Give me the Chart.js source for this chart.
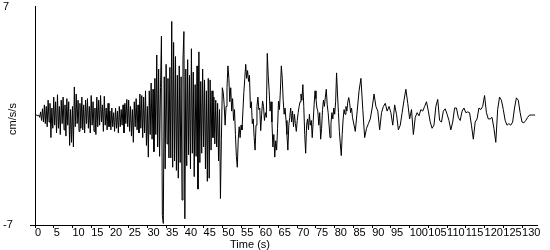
<!DOCTYPE html>
<html>
<head>
<meta charset="utf-8">
<script src="https://cdn.jsdelivr.net/npm/chart.js@4"></script>
<style>
  html, body { margin: 0; padding: 0; background: #fff; }
  #wrap { width: 550px; height: 250px; position: relative; }
</style>
</head>
<body>
<div id="wrap"><canvas id="seismoChart"></canvas></div>
<script>
// time axis ticks (s) and y axis ticks (cm/s/s)
const timeTicks = [0, 5, 10, 15, 20, 25, 30, 35, 40, 45, 50, 55, 60, 65, 70, 75, 80, 85, 90, 95, 100, 105, 110, 115, 120, 125, 130];
const accelTicks = [-7, 7];

// 0 - 29.75 s, every 0.25 s
const preEventStart = 0;
const preEventStep = 0.25;
const preEvent = [
  0, 0, 0.05, 0,
  0.05, -0.1, 0.25, -0.3,
  0.45, -0.4, 0.7, -0.5,
  0.6, -0.7, 1.0, -0.4,
  0.8, -1.4, 0.5, -0.8,
  1.2, -0.6, 0.9, -1.1,
  1.35, -0.8, 0.6, -1.2,
  1.0, -0.5, 1.2, -0.9,
  0.7, -1.3, 1.1, -0.6,
  0.9, -1.9, 0.4, -1.7,
  0.6, -2.0, 1.85, -0.7,
  1.4, -0.5, 1.0, -1.0,
  0.8, -0.8, 1.2, -0.9,
  0.7, -1.1, 1.0, -0.5,
  1.1, -0.8, 0.6, -1.1,
  1.3, -0.6, 0.9, -1.0,
  0.5, -1.2, 1.2, -0.7,
  1.0, -0.6, 1.3, -0.4,
  0.7, -1.0, 1.25, -0.6,
  0.5, -0.9, 0.8, -0.7,
  0.3, -0.9, 0.5, -0.7,
  0.2, -1.0, 0.5, -0.8,
  0.3, -1.1, 0.6, -0.7,
  0.4, -0.6, 0.7, -1.1,
  0.8, -0.5, 1.05, -0.7,
  1.0, -1.0, 0.6, -1.3,
  0.4, -1.7, 0.9, -0.7,
  1.1, -0.9, 0.7, -1.1,
  1.4, -0.8, 1.3, -1.4,
  1.2, -1.1, 1.6, -1.9
];

// 30 - 49.75 s, every 0.25 s
const strongStart = 30;
const strongStep = 0.25;
const strongMotion = [
  0.6, -2.65, 1.6, -1.2,
  2.1, -1.5, 1.7, -2.3,
  2.4, -1.2, 3.9, -2.0,
  3.0, -2.6, 1.8, 5.1,
  -6.4, -6.9, 2.5, -3.4,
  3.3, -1.8, 2.4, -2.7,
  3.1, -2.7, 6.05, -3.3,
  4.7, -2.9, 3.8, -3.5,
  2.6, -4.0, 3.2, -3.0,
  2.5, -5.4, 3.6, 5.4,
  -6.6, 3.0, -3.2, 3.6,
  -2.5, 2.6, -3.4, 4.3,
  -2.4, 2.8, -3.9, 2.0,
  -2.6, 3.2, -4.7, 4.1,
  -3.0, 2.2, -2.4, 3.0,
  -2.0, 2.3, -3.4, 1.6,
  -4.2, 2.4, -4.0, 2.3,
  -2.2, 1.6, -1.4, 1.2,
  -1.8, 1.0, -2.0, 0.8,
  -2.9, 0.4, -5.3, -1.5
];

// 50 - 84.75 s, every 0.25 s
const earlyCodaStart = 50;
const earlyCodaStep = 0.25;
const earlyCoda = [
  1.8, 1.5, 0.7, -0.6,
  0.6, 1.8, 3.2, 2.4,
  0.9, 1.8, 0.3, 1.1,
  -0.3, 0.4, -1.2, -2.6,
  -3.3, -1.5, -0.7, -1.4,
  -0.6, -0.9, 0.3, 1.5,
  2.4, 3.3, 2.4, 2.9,
  2.2, 2.6, 0.5, 0.9,
  -0.5, -0.2, -1.4, -2.2,
  -0.6, 0.6, 1.2, 0.4,
  0.5, -0.95, 0.1, 0.95,
  0.6, -0.3, 0.2, -0.1,
  4.0, 2.6, 1.6, 0.3,
  0.9, -0.4, -2.0, -1.2,
  -2.65, -1.6, -2.2, -0.8,
  0.95, 0.4, 1.6, 3.2,
  2.4, 1.0, 0.1, 0.5,
  -0.3, -1.2, -2.2, -0.6,
  -0.1, 0.5, -0.4, 0.3,
  -0.7, 0.1, -0.5, -1.0,
  -0.3, 0.2, 0.6, 0.9,
  1.4, 1.0, 2.0, 0.6,
  -1.2, -2.4, -0.6, -0.2,
  -0.9, 0.1, -0.6, -0.3,
  -1.4, -0.4, 0.7, 1.6,
  1.1, 0.5, 0.3, -0.6,
  0.2, -1.5, -0.8, 0.4,
  1.0, 0.6, 1.2, 1.7,
  0.7, 0.2, -0.6, -1.4,
  -0.5, 0.2, -0.2, 0.5,
  0.1, 0.9, 2.75, 1.4,
  0.2, -1.0, -1.8, -2.55,
  -1.2, -0.2, 0.4, 0.1,
  0.6, 0.3, 0.9, 1.17,
  0.8, 0.2, 0.5, -0.1
];

// 85 - 133.5 s, every 0.5 s
const lateCodaStart = 85;
const lateCodaStep = 0.5;
const lateCoda = [
  -0.4, -1.0, 0.3, 1.6, 2.4, 0.4, -1.4, -0.8, -0.5, -0.2,
  0.5, 1.4, 0.6, 0.3, -0.9, 0.2, 0.6, 0.8, 0.3, 0.6,
  0.2, -0.6, 0.7, 0.1, -0.9, -0.6, 0.2, 1.0, 1.7, 0.8,
  -0.2, 0.4, -1.2, -0.1, 0.2, 0.0, 0.4, 0.3, 0.6, 0.9,
  0.3, -0.4, -0.8, -0.6, 0.6, 1.05, -0.3, -0.4, 0.3, 0.45,
  0.1, -0.3, -0.9, -0.4, 0.5, 0.5, -0.1, -0.3, 0.3, 0.5,
  0.2, 0.25, 0.2, -0.6, -1.5, -0.4, -0.2, 0.5, 0.4, 0.6,
  1.3, 0.2, -0.2, -0.2, -0.1, -0.8, -1.7, 0.4, 1.2, 1.0,
  0.4, -0.3, -0.6, -0.5, -0.6, -0.4, 0.5, 1.15, 1.0, 0.2,
  -0.4, -0.45, -0.3, -0.1, 0.05, 0.05, 0.05, 0.05
];

function toPoints(values, start, step) {
  return values.map((v, i) => ({ x: start + i * step, y: v }));
}

const tracePoints = [
  ...toPoints(preEvent, preEventStart, preEventStep),
  ...toPoints(strongMotion, strongStart, strongStep),
  ...toPoints(earlyCoda, earlyCodaStart, earlyCodaStep),
  ...toPoints(lateCoda, lateCodaStart, lateCodaStep),
];

const tickFont = { family: "Liberation Sans", size: 11 };

// axis titles sit in odd spots, so draw them by hand
const axisTitles = {
  id: "axisTitles",
  afterDraw(chart) {
    const ctx = chart.ctx;
    ctx.save();
    ctx.fillStyle = "#000";
    ctx.font = "11px 'Liberation Sans'";
    ctx.textAlign = "center";
    ctx.textBaseline = "middle";
    ctx.fillText("Time (s)", 250, 245);
    ctx.translate(13, 119);
    ctx.rotate(-Math.PI / 2);
    ctx.fillText("cm/s/s", 0, 0);
    ctx.restore();
  },
};

new Chart(document.getElementById("seismoChart"), {
  type: "line",
  data: {
    datasets: [
      {
        data: tracePoints,
        borderColor: "#000",
        borderWidth: 1,
        pointRadius: 0,
        tension: 0,
        fill: false,
      },
    ],
  },
  options: {
    responsive: true,
    maintainAspectRatio: false,
    animation: false,
    layout: { padding: { left: 3, right: 13, top: 5, bottom: 0 } },
    plugins: {
      legend: { display: false },
      tooltip: { enabled: false },
    },
    scales: {
      x: {
        type: "linear",
        min: 0,
        max: 134,
        afterBuildTicks: (scale) => {
          scale.ticks = timeTicks.map((v) => ({ value: v }));
        },
        afterFit: (scale) => {
          scale.height = 25;
        },
        border: { color: "#000", width: 1 },
        grid: { drawOnChartArea: false, drawTicks: true, tickLength: 3, color: "#000" },
        ticks: {
          color: "#000",
          font: tickFont,
          align: "start",
          padding: -2,
          autoSkip: false,
          maxRotation: 0,
          minRotation: 0,
        },
      },
      y: {
        min: -7,
        max: 7,
        afterBuildTicks: (scale) => {
          scale.ticks = accelTicks.map((v) => ({ value: v }));
        },
        afterFit: (scale) => {
          scale.width = 32;
        },
        border: { color: "#000", width: 1 },
        grid: {
          drawOnChartArea: false,
          drawTicks: true,
          tickLength: 5,
          color: (c) => (c.tick && c.tick.value < 0 ? "#000" : "rgba(0,0,0,0)"),
        },
        ticks: {
          color: "#000",
          font: tickFont,
          crossAlign: "far",
          padding: 0,
        },
      },
    },
  },
  plugins: [axisTitles],
});
</script>
</body>
</html>
